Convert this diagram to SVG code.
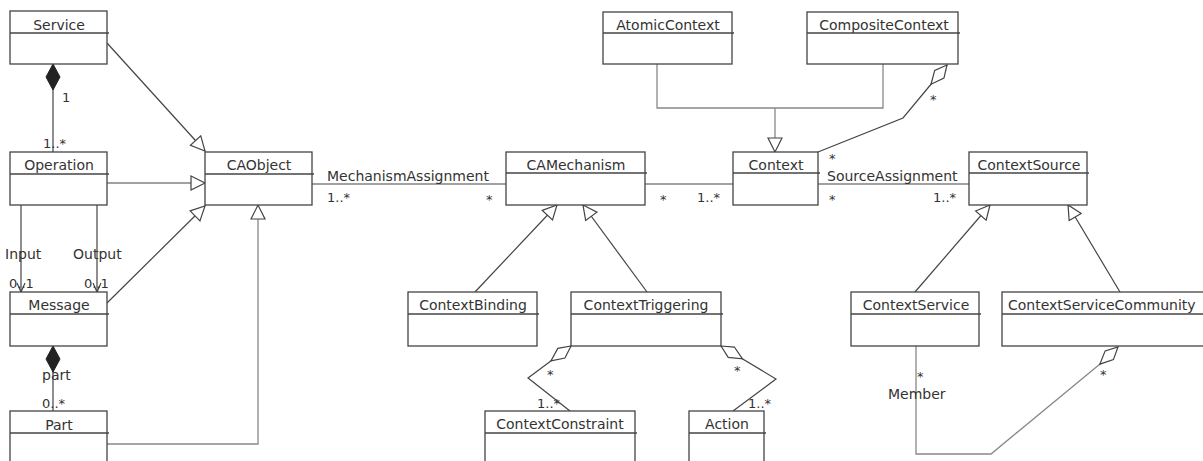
<svg xmlns="http://www.w3.org/2000/svg" width="1203" height="461" viewBox="0 0 1203 461">
<style>
.box{fill:#fff;stroke:#444;stroke-width:1.3}
.div{stroke:#444;stroke-width:1.3}
.t{font-family:"DejaVu Sans",sans-serif;font-size:14px;fill:#333;text-anchor:middle}
.l{font-family:"DejaVu Sans",sans-serif;font-size:14px;fill:#333}
.m{font-family:"DejaVu Sans",sans-serif;font-size:13px;fill:#333}
.c{fill:none;stroke:#444;stroke-width:1.2}
.g{fill:none;stroke:#888;stroke-width:1.3}
</style>
<defs>
<marker id="tri" markerUnits="userSpaceOnUse" markerWidth="16" markerHeight="16" refX="14" refY="7" orient="auto" overflow="visible">
<path d="M0,0 L14,7 L0,14 z" fill="#fff" stroke="#444" stroke-width="1.2"/>
</marker>
<marker id="open" markerUnits="userSpaceOnUse" markerWidth="12" markerHeight="12" refX="9" refY="4" orient="auto" overflow="visible">
<path d="M0,0 L9,4 L0,8" fill="none" stroke="#444" stroke-width="1.2"/>
</marker>
<marker id="fdia" markerUnits="userSpaceOnUse" markerWidth="28" markerHeight="16" refX="0" refY="7" orient="auto" overflow="visible">
<path d="M0,7 L13,0 L26,7 L13,14 z" fill="#222" stroke="#222" stroke-width="1"/>
</marker>
<marker id="hdia" markerUnits="userSpaceOnUse" markerWidth="28" markerHeight="14" refX="0" refY="6" orient="auto" overflow="visible">
<path d="M0,6 L12,0 L25,6 L12,12 z" fill="#fff" stroke="#444" stroke-width="1.2"/>
</marker>
</defs>

<g id="connectors">
<path class="c" d="M107,43 L205,151" marker-end="url(#tri)"/>
<path class="c" d="M53,64 L53,152" marker-start="url(#fdia)"/>
<path class="c" d="M107,183 L205,183" marker-end="url(#tri)"/>
<path class="c" d="M21,205 L21,292" marker-end="url(#open)"/>
<path class="c" d="M97,205 L97,292" marker-end="url(#open)"/>
<path class="c" d="M107,303 L205,206" marker-end="url(#tri)"/>
<path class="c" d="M53,346 L53,411" marker-start="url(#fdia)"/>
<path class="g" d="M107,444 L258,444 L258,205" marker-end="url(#tri)"/>
<path class="c" d="M312,184 L506,184"/>
<path class="c" d="M645,184 L733,184"/>
<path class="c" d="M475,292 L557,205" marker-end="url(#tri)"/>
<path class="c" d="M647,292 L583,205" marker-end="url(#tri)"/>
<path class="c" d="M571,346 L528,378 L570,411" marker-start="url(#hdia)"/>
<path class="c" d="M721,346 L776,379 L733,411" marker-start="url(#hdia)"/>
<path class="g" d="M657,64 L657,108 L883,108 L883,64"/>
<path class="g" d="M775,108 L775,152" marker-end="url(#tri)"/>
<path class="c" d="M947,65 L903,118 L818,152" marker-start="url(#hdia)"/>
<path class="c" d="M818,184 L969,184"/>
<path class="c" d="M915,292 L990,205" marker-end="url(#tri)"/>
<path class="c" d="M1120,292 L1068,205" marker-end="url(#tri)"/>
<path class="g" d="M1118,347 L1100,364 L991,454 L916,454 L916,346" marker-start="url(#hdia)"/>
</g>

<g id="labels">
<text class="m" x="62" y="102">1</text>
<text class="m" x="43" y="148">1..*</text>
<text class="l" x="5" y="259">Input</text>
<text class="l" x="73" y="259">Output</text>
<text class="m" x="9" y="288">0..1</text>
<text class="m" x="84" y="288">0..1</text>
<text class="l" x="42" y="380">part</text>
<text class="m" x="42" y="408">0..*</text>
<text class="l" x="327" y="181">MechanismAssignment</text>
<text class="m" x="327" y="202">1..*</text>
<text class="m" x="486" y="204">*</text>
<text class="m" x="660" y="204">*</text>
<text class="m" x="697" y="202">1..*</text>
<text class="m" x="930" y="104">*</text>
<text class="m" x="829" y="163">*</text>
<text class="l" x="827" y="181">SourceAssignment</text>
<text class="m" x="829" y="204">*</text>
<text class="m" x="933" y="202">1..*</text>
<text class="m" x="547" y="379">*</text>
<text class="m" x="537" y="408">1..*</text>
<text class="m" x="734" y="375">*</text>
<text class="m" x="748" y="408">1..*</text>
<text class="m" x="917" y="381">*</text>
<text class="l" x="888" y="399">Member</text>
<text class="m" x="1100" y="379">*</text>
</g>

<g id="Service"><rect class="box" x="10" y="11" width="97" height="53"/><line class="div" x1="10" y1="33" x2="109" y2="33"/><text class="t" x="59" y="30">Service</text></g>
<g id="Operation"><rect class="box" x="10" y="152" width="97" height="53"/><line class="div" x1="10" y1="174" x2="109" y2="174"/><text class="t" x="59" y="170">Operation</text></g>
<g id="Message"><rect class="box" x="10" y="292" width="97" height="54"/><line class="div" x1="10" y1="314" x2="109" y2="314"/><text class="t" x="59" y="310">Message</text></g>
<g id="Part"><rect class="box" x="10" y="411" width="97" height="60"/><line class="div" x1="10" y1="433" x2="109" y2="433"/><text class="t" x="59" y="430">Part</text></g>
<g id="CAObject"><rect class="box" x="205" y="152" width="107" height="53"/><line class="div" x1="205" y1="174" x2="314" y2="174"/><text class="t" x="259" y="170">CAObject</text></g>
<g id="CAMechanism"><rect class="box" x="506" y="152" width="139" height="53"/><line class="div" x1="506" y1="173" x2="647" y2="173"/><text class="t" x="576" y="170">CAMechanism</text></g>
<g id="ContextBinding"><rect class="box" x="408" y="292" width="129" height="54"/><line class="div" x1="408" y1="314" x2="539" y2="314"/><text class="t" x="473" y="310">ContextBinding</text></g>
<g id="ContextTriggering"><rect class="box" x="571" y="292" width="150" height="54"/><line class="div" x1="571" y1="314" x2="723" y2="314"/><text class="t" x="646" y="310">ContextTriggering</text></g>
<g id="ContextConstraint"><rect class="box" x="485" y="411" width="150" height="60"/><line class="div" x1="485" y1="433" x2="637" y2="433"/><text class="t" x="560" y="429">ContextConstraint</text></g>
<g id="Action"><rect class="box" x="689" y="411" width="75" height="60"/><line class="div" x1="689" y1="433" x2="766" y2="433"/><text class="t" x="727" y="429">Action</text></g>
<g id="AtomicContext"><rect class="box" x="603" y="12" width="129" height="52"/><line class="div" x1="603" y1="33" x2="734" y2="33"/><text class="t" x="668" y="30">AtomicContext</text></g>
<g id="CompositeContext"><rect class="box" x="807" y="12" width="151" height="52"/><line class="div" x1="807" y1="33" x2="960" y2="33"/><text class="t" x="884" y="30">CompositeContext</text></g>
<g id="Context"><rect class="box" x="733" y="152" width="85" height="53"/><line class="div" x1="733" y1="173" x2="820" y2="173"/><text class="t" x="776" y="170">Context</text></g>
<g id="ContextSource"><rect class="box" x="969" y="152" width="118" height="53"/><line class="div" x1="969" y1="173" x2="1089" y2="173"/><text class="t" x="1029" y="170">ContextSource</text></g>
<g id="ContextService"><rect class="box" x="851" y="292" width="128" height="54"/><line class="div" x1="851" y1="314" x2="981" y2="314"/><text class="t" x="916" y="310">ContextService</text></g>
<g id="ContextServiceCommunity"><rect class="box" x="1002" y="292" width="210" height="54"/><line class="div" x1="1002" y1="314" x2="1212" y2="314"/><text class="l" x="1008" y="310">ContextServiceCommunity</text></g>
</svg>
